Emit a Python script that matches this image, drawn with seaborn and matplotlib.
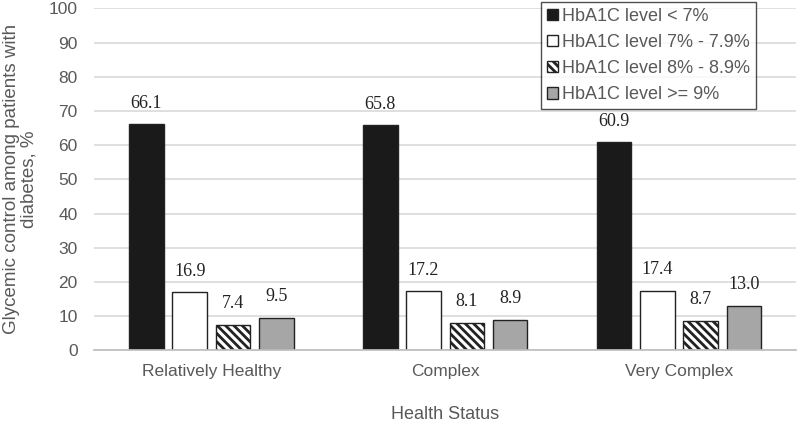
import seaborn as sns
import matplotlib.pyplot as plt
import pandas as pd

status = ["Relatively Healthy", "Complex", "Very Complex"]
levels = ["HbA1C level < 7%", "HbA1C level 7% - 7.9%", "HbA1C level 8% - 8.9%", "HbA1C level >= 9%"]
lt7 = [66.1, 65.8, 60.9]
l7_79 = [16.9, 17.2, 17.4]
l8_89 = [7.4, 8.1, 8.7]
ge9 = [9.5, 8.9, 13.0]

colors = ["#1a1a1a", "white", "white", "#a6a6a6"]
hatches = ["", "", "\\\\\\\\", ""]

rows = []
for lev, vals in zip(levels, [lt7, l7_79, l8_89, ge9]):
    for s, v in zip(status, vals):
        rows.append({"status": s, "level": lev, "value": v})
df = pd.DataFrame(rows)

sns.set_theme(style="white")
plt.rcParams["font.family"] = ["Liberation Sans", "DejaVu Sans"]
plt.rcParams["hatch.linewidth"] = 2.0

fig, ax = plt.subplots(figsize=(8, 4.22), dpi=100)
sns.barplot(data=df, x="status", y="value", hue="level", hue_order=levels,
            palette=colors, edgecolor="#222222", linewidth=1.0,
            width=0.74, gap=0.2, ax=ax)

# style each hue group and label bars
for i, cont in enumerate(ax.containers):
    for bar in cont:
        bar.set_facecolor(colors[i])
        bar.set_hatch(hatches[i])
        bar.set_edgecolor("#222222")
    ax.bar_label(cont, fmt="%.1f", padding=9, fontsize=13,
                 family="Liberation Serif", color="#222222")

ax.set_ylim(0, 100)
ax.set_xlim(-0.5, 2.5)
ax.set_yticks(range(0, 101, 10))
ax.yaxis.grid(True, color="#d9d9d9", linewidth=1.2)
ax.set_axisbelow(True)
for side in ["left", "right", "top"]:
    ax.spines[side].set_visible(False)
ax.spines["bottom"].set_color("#bfbfbf")
ax.tick_params(axis="both", colors="#595959", labelsize=12.5, length=0)
ax.tick_params(axis="x", pad=10)
ax.tick_params(axis="y", pad=12)
ax.set_xlabel("Health Status", color="#595959", fontsize=13, labelpad=19)
ax.set_ylabel("Glycemic control among patients with\ndiabetes, %", color="#595959",
              fontsize=13.5, labelpad=8, linespacing=1.05)

handles, labels = ax.get_legend_handles_labels()
for h, c, ht in zip(handles, colors, hatches):
    h.set_facecolor(c)
    h.set_hatch(ht)
leg = ax.legend(handles, labels, loc="upper right", bbox_to_anchor=(0.956, 1.046),
                frameon=True, fancybox=False, edgecolor="#222222", fontsize=13,
                handlelength=0.6, handleheight=0.6, handletextpad=0.2,
                labelspacing=0.5, borderpad=0.35, borderaxespad=0.5,
                labelcolor="#595959")
leg.get_frame().set_linewidth(1.0)

plt.subplots_adjust(left=0.118, right=0.995, top=0.98, bottom=0.17)
plt.savefig("out.png", dpi=100)
